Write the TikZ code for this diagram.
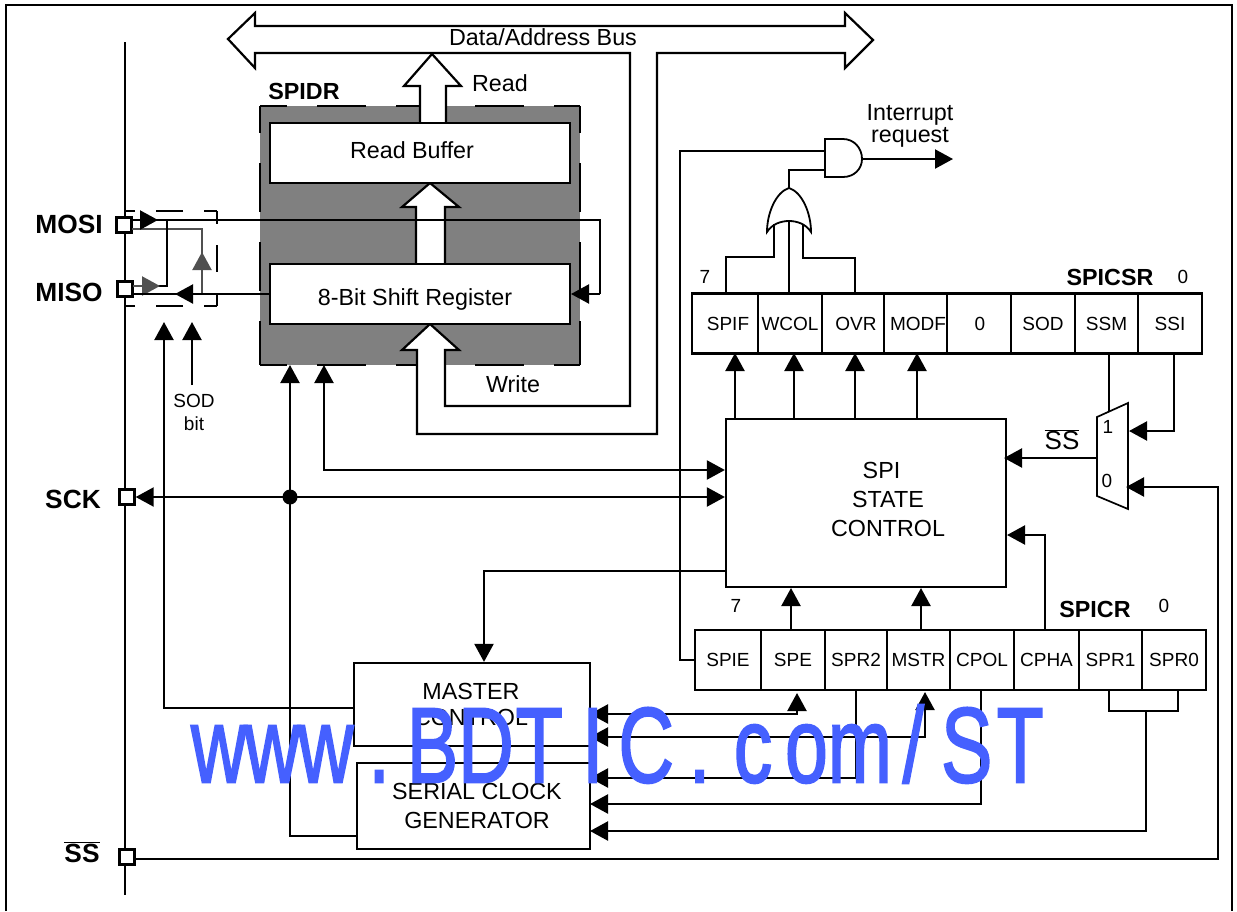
\documentclass[tikz,border=0pt]{standalone}
\usepackage{fontspec}
\setmainfont{Liberation Sans}
\newfontfamily\wmfont[FakeBold=2]{Liberation Sans}
\usetikzlibrary{arrows.meta,calc}
\definecolor{wmblue}{HTML}{4560FF}
\definecolor{pathgray}{HTML}{505050}
\definecolor{regfill}{HTML}{808080}
\newcommand{\wmc}[1]{\makebox[74.2pt][c]{#1}}
\tikzset{
  wire/.style={line width=2.2pt,line join=miter},
  arr/.style={wire,-{Triangle[length=18pt,width=19pt]}},
  darr/.style={wire,{Triangle[length=18pt,width=19pt]}-{Triangle[length=18pt,width=19pt]}},
  box/.style={draw,line width=2.2pt,fill=white,inner sep=0pt,align=center,font=\fontsize{23.3}{29}\selectfont},
  cell/.style={box,minimum height=60pt,font=\fontsize{19}{23}\selectfont},
  pinbox/.style={draw,line width=2.4pt,fill=white,minimum size=15pt,inner sep=0pt},
  lbl/.style={inner sep=0pt,align=center,font=\fontsize{23.3}{25}\selectfont},
  blbl/.style={inner sep=0pt,font=\fontsize{26.3}{29}\selectfont\bfseries},
  slbl/.style={inner sep=0pt,align=center,font=\fontsize{19}{23}\selectfont},
  hollow/.style={line width=2.2pt,fill=white,line join=miter},
  longdash/.style={line width=2.2pt,dash pattern=on 49pt off 30pt,dash phase=22pt},
  shortdash/.style={line width=1.8pt,dash pattern=on 27pt off 21pt,dash phase=14pt},
}
\begin{document}
\begin{tikzpicture}[x=1pt,y=-1pt]
\useasboundingbox (0,0) rectangle (1237,911);
% frame
\draw[wire] (6,911) -- (6,5) -- (1232,5) -- (1232,911);
% left rail
\coordinate (railtop) at (125,42);
\coordinate (railbot) at (125,895);
\draw[wire] (railtop) -- (railbot);
% SPIDR block
\fill[regfill] (260,106) rectangle (580,365);
\draw[longdash] (260,106) -- (580,106);
\draw[longdash] (260,106) -- (260,365);
\draw[longdash] (580,106) -- (580,365);
\draw[longdash] (260,365) -- (580,365);
% Bus with write branch
\draw[hollow] (630,53) -- (630,406) -- (445,406) -- (445,350) -- (459,350) -- (430,324) -- (402,350) -- (417,350) -- (417,434) -- (657,434) -- (657,53) -- (845,53) -- (845,68) -- (873,40) -- (845,13) -- (845,26) -- (255,26) -- (255,13) -- (228,39) -- (255,68) -- (255,53) -- cycle;
% big arrows
\draw[hollow] (420,123) -- (420,86) -- (404,86) -- (432,54) -- (461,86) -- (446,86) -- (446,123);
\draw[hollow] (416,264) -- (416,207) -- (402,207) -- (430,183) -- (459,207) -- (445,207) -- (445,264);
% buffers
\node[box,minimum width=300pt,minimum height=60pt] (rbuf) at (420,153) {};
\node[box,minimum width=300pt,minimum height=60pt] (sreg) at (420,294) {};
\node[lbl] (trbuf) at (412,150) {Read Buffer};
\node[lbl] (tsreg) at (415,299) {8-Bit Shift Register};
\node[lbl] (tbus) at (543,37) {Data/Address Bus};
\node[lbl] (tread) at (500,83) {Read};
\node[lbl] (twrite) at (513,384) {Write};
\node[lbl,font=\fontsize{23.3}{25}\selectfont\bfseries] (tspidr) at (304,91) {SPIDR};
% pins
\node[pinbox] (mosi) at (124,225) {};
\node[pinbox] (miso) at (125,289) {};
\node[pinbox] (sck) at (127,497) {};
\node[pinbox] (ssp) at (127,857) {};
\node[blbl] (tmosi) at (69,224) {MOSI};
\node[blbl] (tmiso) at (69,292) {MISO};
\node[blbl] (tsck) at (73,499) {SCK};
\node[blbl] (tss) at (82,852) {$\overline{\mbox{SS}}$};
% small dashed switch box
\draw[shortdash] (217,211) -- (125,211);
\draw[shortdash] (217,306) -- (125,306);
\draw[shortdash] (217,211) -- (217,306);
% MOSI / MISO paths
\coordinate (mosiA) at (132,220);
\coordinate (mosiB) at (132,229);
\coordinate (misoA) at (133,286);
\coordinate (misoB) at (133,294);
\coordinate (loopR) at (600,220);
\draw[pathgray,line width=2.2pt] (mosiB) -- (202,229) -- (202,294);
\draw[pathgray,arr] (202,294) -- (202,252);
\draw[wire] (167,220) -- (167,286) -- (150,286);
\draw[pathgray,arr] (misoA) -- (160,286);
\draw[wire] (mosiA) -- (loopR) -- (600,294);
\draw[arr] (mosiA) -- (158,220);
\draw[arr] (600,294) -- (571,294);
\draw[wire] (sreg.west) -- (misoB);
\draw[arr] (210,294) -- (175,294);
% SOD
\node[slbl] (tsod) at (194,412) {SOD\\bit};
\coordinate (sodA) at (165,322);
\coordinate (sodB) at (192,322);
\draw[arr] (192,385) -- (sodB);
% state control
\node[box,minimum width=280pt,minimum height=168pt] (state) at (866,503) {};
\node[lbl,font=\fontsize{23.3}{29}\selectfont] (tstate) at (888,499.5) {SPI\hspace*{13pt}\\STATE\hspace*{7pt}\\CONTROL};
% master and clock
\node[box,minimum width=236pt,minimum height=83pt] (master) at (472,704.5) {};
\node[box,minimum width=233pt,minimum height=86pt] (sclk) at (473.5,806) {};
\node[lbl,font=\fontsize{23.3}{26}\selectfont] (tmaster) at (471,704) {MASTER\\CONTROL};
\node[lbl,font=\fontsize{23.3}{29}\selectfont] (tsclk) at (477,806) {SERIAL CLOCK\\GENERATOR};
% left connections
\draw[arr] (master.west |- 0,708) -- (164,708) -- (sodA -| 164,0);
\draw[arr] (sclk.west |- 0,836) -- (290,836) -- (290,365);
\fill (290,497) circle (7.5pt);
\draw[darr] (sck.east) -- (state.west |- sck);
\draw[darr] (324,365) -- (324,470) -- (state.west |- 0,470);
\draw[arr] (state.west |- 0,571) -- (484,571) -- (master.north -| 484,0);
% SPICSR
\node[cell,minimum width=66pt] (spif) at (725,323.5) {\hspace*{6pt}SPIF};
\node[cell,minimum width=64pt] (wcol) at (790,323.5) {WCOL};
\node[cell,minimum width=62pt] (ovr) at (853,323.5) {\hspace*{6pt}OVR};
\node[cell,minimum width=63pt] (modf) at (915.5,323.5) {\hspace*{5pt}MODF};
\node[cell,minimum width=64pt] (zero) at (979,323.5) {\hspace*{2pt}0};
\node[cell,minimum width=64pt] (sod) at (1043,323.5) {SOD};
\node[cell,minimum width=63pt] (ssm) at (1106.5,323.5) {SSM};
\node[cell,minimum width=64pt] (ssi) at (1170,323.5) {SSI};
\node[slbl] (t7a) at (705,277) {7};
\node[lbl,font=\fontsize{23.3}{25}\selectfont\bfseries] (tcsr) at (1110,277) {SPICSR};
\node[slbl] (t0a) at (1183,277) {0};
% SPICR
\node[cell,minimum width=66pt] (spie) at (728,660) {SPIE};
\node[cell,minimum width=64pt] (spe) at (793,660) {SPE};
\node[cell,minimum width=62pt] (spr2) at (856,660) {SPR2};
\node[cell,minimum width=63pt] (mstr) at (918.5,660) {MSTR};
\node[cell,minimum width=64pt] (cpol) at (982,660) {CPOL};
\node[cell,minimum width=65pt] (cpha) at (1046.5,660) {CPHA};
\node[cell,minimum width=63pt] (spr1) at (1110.5,660) {SPR1};
\node[cell,minimum width=64pt] (spr0) at (1174,660) {SPR0};
\node[slbl] (t7b) at (736,606) {7};
\node[lbl,font=\fontsize{23.3}{25}\selectfont\bfseries] (tcr) at (1095,609) {SPICR};
\node[slbl] (t0b) at (1164,606) {0};
% state to SPICSR
\draw[arr] (735,419) -- (735,353);
\draw[arr] (794,419) -- (794,353);
\draw[arr] (855,419) -- (855,353);
\draw[arr] (917,419) -- (917,353);
% SPICR to state
\draw[arr] (791,630) -- (791,588);
\draw[arr] (921,630) -- (921,588);
\draw[arr] (1045,630) -- (1045,535) -- (1007,535);
% SPICR to master / clock
\coordinate (mA) at (590,714);
\coordinate (mB) at (590,737);
\coordinate (cA) at (590,778);
\coordinate (cB) at (590,804);
\coordinate (cC) at (590,831);
\draw[darr] (mA) -- (797,714) -- (797,693);
\draw[darr] (mB) -- (925,737) -- (925,692);
\draw[arr] (856,690) -- (856,778) -- (cA);
\draw[arr] (981,690) -- (981,804) -- (cB);
\draw[wire] (1109,690) -- (1109,711) -- (1178,711) -- (1178,690);
\draw[arr] (1146,711) -- (1146,831) -- (cC);
% gates
\coordinate (andNW) at (825,139);
\coordinate (andSW) at (825,177);
\coordinate (andO) at (862,159);
\coordinate (intr) at (953,159);
\draw[line width=1.8pt,fill=white] (andSW) -- (andNW) -- (843,139) .. controls (854,139) and (862,148) .. (andO) .. controls (862,169) and (854,177) .. (843,177) -- cycle;
\draw[arr] (andO) -- (intr);
\coordinate (orT) at (789,188);
\draw[line width=1.8pt,fill=white] (orT) .. controls (776,192) and (767,213) .. (767,232) .. controls (772,224) and (781,221) .. (789,221) .. controls (797,221) and (806,224) .. (811,232) .. controls (811,213) and (802,192) .. (orT) -- cycle;
\draw[wire] (orT) -- (789,170) -- (andSW |- 0,170);
\draw[wire] (spie.west) -- (680,660) -- (680,151) -- (andNW |- 0,151);
\draw[wire] (wcol.north) ++(-1,0) -- (789,222);
\draw[wire] (726,294) -- (726,257) -- (774,257) -- (774,224);
\draw[wire] (855,294) -- (855,258) -- (803,258) -- (803,224);
\node[lbl,font=\fontsize{23.3}{22}\selectfont] (tint) at (910,126) {Interrupt\\request};
% mux
\coordinate (muxA) at (1097,417);
\coordinate (muxB) at (1128,403);
\coordinate (muxC) at (1128,509);
\coordinate (muxD) at (1097,496);
\draw[wire] (ssm.south -| 1109,0) -- (1109,412);
\draw[line width=1.7pt,fill=white] (muxA) -- (muxB) -- (muxC) -- (muxD) -- cycle;
\node[slbl] (tm1) at (1108,427) {1};
\node[slbl] (tm0) at (1107,481) {0};
\node[lbl,font=\fontsize{26}{28}\selectfont] (tssb) at (1062,440) {$\overline{\mbox{SS}}$};
\draw[arr] (1097,458) -- (1004,458);
\draw[arr] (1174,353) -- (1174,431) -- (1129,431);
\draw[arr] (ssp.east |- 0,859) -- (1218,859) -- (1218,487) -- (1126,487);
% watermark
\node[inner sep=0pt,anchor=west,text=wmblue,xscale=0.72,font=\wmfont\fontsize{107}{107}\selectfont] (wm) at (192,744)
 {\wmc{w}\wmc{w}\wmc{w}\wmc{.}\wmc{B}\wmc{D}\wmc{T}\wmc{I}\wmc{C}\wmc{.}\wmc{c}\wmc{o}\wmc{m}\wmc{/}\wmc{S}\wmc{T}};
\end{tikzpicture}
\end{document}
